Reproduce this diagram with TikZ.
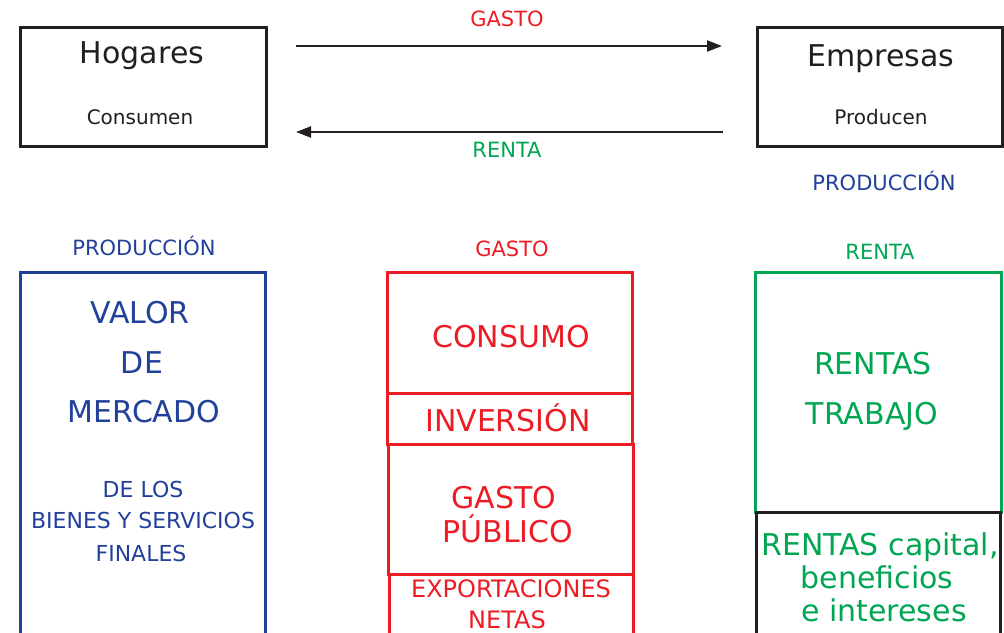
\documentclass[tikz,border=0pt]{standalone}
\usepackage{fontspec}
\setmainfont{DejaVu Sans}
\usetikzlibrary{arrows.meta}

\definecolor{rojo}{HTML}{ED1C24}
\definecolor{azul}{HTML}{21409A}
\definecolor{verde}{HTML}{00A651}
\definecolor{negro}{HTML}{231F20}

\tikzset{
  caja/.style={draw=negro, line width=3pt, anchor=north west, inner sep=0pt},
  flecha/.style={draw=negro, line width=2.2pt, -{Triangle[length=15pt, width=11pt]}},
  grande/.style={font=\fontsize{30}{36}\selectfont, anchor=base, inner sep=0pt},
  media/.style={font=\fontsize{24}{28}\selectfont, anchor=base, inner sep=0pt},
  chica/.style={font=\fontsize{21}{25}\selectfont, anchor=base, inner sep=0pt},
  mini/.style={font=\fontsize{20}{24}\selectfont, anchor=base, inner sep=0pt}
}

\begin{document}
\begin{tikzpicture}[x=1pt, y=-1pt]
    \useasboundingbox (0,0) rectangle (1004,632);
    \clip (0,0) rectangle (1004,632);

    % Hogares y Empresas
    \node[caja, minimum width=246pt, minimum height=119pt] (hog) at (19,26) {};
    \node[caja, minimum width=245pt, minimum height=119pt] (emp) at (756,26) {};
    \node[grande, text=negro] (hogt) at (142,63) {Hogares};
    \node[mini, text=negro] (hogc) at (140,124) {Consumen};
    \node[grande, text=negro] (empt) at (881,66) {Empresas};
    \node[mini, text=negro] (empp) at (881,124) {Producen};

    % flujos entre ambos
    \draw[flecha, shorten <=28pt, shorten >=34pt]
        ([yshift=-20pt]hog.north east) -- ([yshift=-20pt]emp.north west);
    \draw[flecha, shorten <=33pt, shorten >=28pt]
        ([yshift=16pt]emp.south west) -- ([yshift=16pt]hog.south east);
    \node[chica, text=rojo] (gasto) at (507,26) {GASTO};
    \node[chica, text=verde] (renta) at (507,157) {RENTA};
    \node[chica, text=azul] (prod) at (884,190) {PRODUCCIÓN};

    % columna de la produccion
    \node[chica, text=azul] (prodt) at (144,255) {PRODUCCIÓN};
    \node[caja, draw=azul, line width=2.6pt, minimum width=245pt, minimum height=380pt] (valor) at (19,271) {};
    \node[grande, text=azul] (valor1) at (140,323) {VALOR};
    \node[grande, text=azul] (valor2) at (142,373) {DE};
    \node[grande, text=azul] (valor3) at (144,422) {MERCADO};
    \node[chica, font=\fontsize{22}{26}\selectfont, text=azul] (bien1) at (143,497) {DE LOS};
    \node[chica, font=\fontsize{22}{26}\selectfont, text=azul] (bien2) at (143,528) {BIENES Y SERVICIOS};
    \node[chica, font=\fontsize{22}{26}\selectfont, text=azul] (bien3) at (141,561) {FINALES};

    % columna del gasto
    \node[chica, text=rojo] (gastot) at (512,256) {GASTO};
    \node[caja, draw=rojo, line width=2.8pt, minimum width=245pt, minimum height=121pt] (cons) at (386,271) {};
    \node[caja, draw=rojo, line width=2.8pt, minimum width=245pt, minimum height=51pt] (inv) at (386,392) {};
    \node[caja, draw=rojo, line width=2.8pt, minimum width=245pt, minimum height=130pt] (pub) at (387,443) {};
    \node[caja, draw=rojo, line width=2.8pt, minimum width=244pt, minimum height=80pt] (exp) at (388,573) {};
    \node[grande, text=rojo] (const) at (511,347) {CONSUMO};
    \node[grande, text=rojo] (invt) at (508,431) {INVERSIÓN};
    \node[grande, text=rojo] (pub1) at (504,508) {GASTO};
    \node[grande, text=rojo] (pub2) at (508,542) {PÚBLICO};
    \node[media, text=rojo] (exp1) at (511,597) {EXPORTACIONES};
    \node[media, text=rojo] (exp2) at (507,628) {NETAS};

    % columna de la renta
    \node[chica, text=verde] (rentat) at (880,259) {RENTA};
    \node[caja, draw=verde, line width=2.5pt, minimum width=246pt, minimum height=240pt] (trab) at (754,271) {};
    \node[caja, minimum width=244pt, minimum height=140pt] (capi) at (755,511) {};
    \node[grande, text=verde] (trab1) at (873,374) {RENTAS};
    \node[grande, text=verde] (trab2) at (872,424) {TRABAJO};
    \node[grande, text=verde] (capi1) at (880,555) {RENTAS capital,};
    \node[grande, text=verde] (capi2) at (877,588) {beneficios};
    \node[grande, text=verde] (capi3) at (884,621) {e intereses};
\end{tikzpicture}
\end{document}
